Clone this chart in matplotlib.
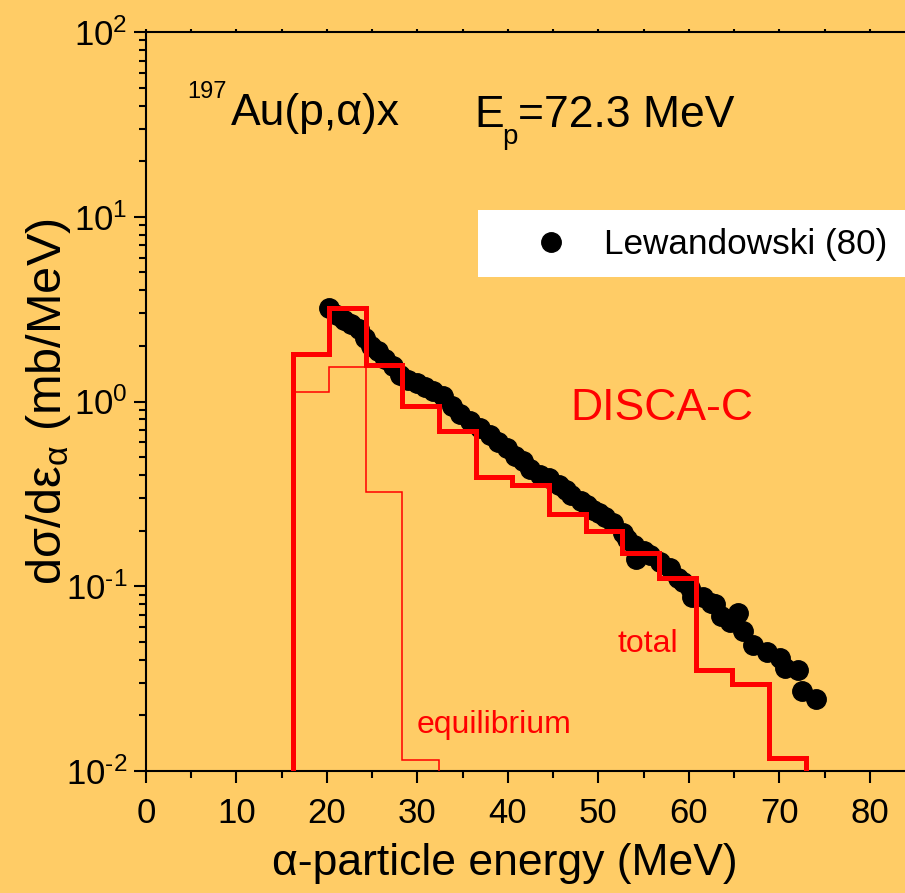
import matplotlib
matplotlib.use('Agg')
import matplotlib.pyplot as plt
from matplotlib.patches import Rectangle
from matplotlib.ticker import MultipleLocator, LogLocator, NullFormatter, FuncFormatter
import numpy as np

plt.rcParams['font.family'] = ['Liberation Sans', 'DejaVu Sans']
plt.rcParams['mathtext.default'] = 'regular'

# DISCA-C calculation: 4 MeV bins
bin_edges = [16.2, 20.25, 24.3, 28.35, 32.4, 36.45, 40.5, 44.55, 48.6,
             52.65, 56.7, 60.75, 64.8, 68.85, 72.9]
total = [1.80, 3.19, 1.57, 0.94, 0.69, 0.39, 0.355, 0.245, 0.199,
         0.152, 0.111, 0.0354, 0.0294, 0.0118]
eq_edges = [16.2, 20.25, 24.3, 28.35, 32.4]
equilibrium = [1.12, 1.53, 0.323, 0.0114]

# Lewandowski (80) data
exp_e = [20.2, 21.1, 21.9, 22.7, 23.5, 24.2, 24.9, 25.6, 26.4, 27.3,
         28.1, 29.0, 29.9, 30.8, 31.7, 32.8, 33.8, 34.7, 35.8, 36.9,
         38.0, 38.9, 39.9, 40.8, 41.7, 42.4, 43.5, 44.6, 45.7, 46.4,
         47.0, 48.1, 48.8, 49.4, 50.1, 50.7, 51.6, 52.7, 53.2, 53.9,
         54.2, 55.0, 55.7, 56.8, 57.9, 58.8, 59.4, 60.1, 60.3, 61.6,
         62.5, 62.9, 63.6, 64.5, 65.4, 66.0, 67.1, 68.6, 70.1, 70.6,
         72.1, 72.5, 74.1]
exp_xs = [3.22, 2.95, 2.75, 2.62, 2.48, 2.21, 1.99, 1.87, 1.69, 1.55,
          1.40, 1.31, 1.26, 1.20, 1.14, 1.07, 0.95, 0.86, 0.78, 0.72,
          0.66, 0.60, 0.56, 0.51, 0.475, 0.43, 0.40, 0.385, 0.355, 0.33,
          0.31, 0.288, 0.275, 0.26, 0.25, 0.238, 0.22, 0.195, 0.18, 0.168,
          0.14, 0.155, 0.148, 0.135, 0.125, 0.111, 0.105, 0.098, 0.088, 0.087,
          0.081, 0.080, 0.069, 0.064, 0.072, 0.057, 0.048, 0.044, 0.041, 0.036,
          0.035, 0.027, 0.0244]

bg = '#FFCC66'
W, H = 905, 893
fig = plt.figure(figsize=(W / 100, H / 100), dpi=100, facecolor=bg)
ax = fig.add_axes([146 / W, 1 - 771 / H, 769 / W, 739 / H], facecolor=bg)

ax.plot(exp_e, exp_xs, 'o', color='black', markersize=14, zorder=2,
        label='Lewandowski (80)')
ax.stairs(total, bin_edges, baseline=1e-4, color='red', lw=3.6, zorder=3)
ax.stairs(equilibrium, eq_edges, baseline=1e-4, color='red', lw=1.1, zorder=3)

ax.set_yscale('log')
ax.set_xlim(0, 85)
ax.set_ylim(1e-2, 1e2)

ax.xaxis.set_major_locator(MultipleLocator(10))
ax.xaxis.set_minor_locator(MultipleLocator(5))
ax.yaxis.set_major_locator(LogLocator(base=10, numticks=10))
ax.yaxis.set_minor_locator(LogLocator(base=10, subs=range(2, 10), numticks=20))
ax.yaxis.set_minor_formatter(NullFormatter())
ax.yaxis.set_major_formatter(FuncFormatter(
    lambda v, p: '10$^{%s}$' % str(int(round(np.log10(v)))).replace('-', '\u2010')))

for s in ax.spines.values():
    s.set_linewidth(1.5)
ax.tick_params(which='both', direction='out', width=1.5, labelsize=25,
               top=True, right=False)
ax.tick_params(which='major', length=8.6)
ax.tick_params(which='minor', length=5)
ax.tick_params(axis='x', which='major', pad=10)
ax.tick_params(axis='y', which='major', pad=5)
# tiny ticks along the top spine
for t in ax.xaxis.get_major_ticks() + ax.xaxis.get_minor_ticks():
    t.tick2line.set_markersize(2)

ax.set_xlabel('α-particle energy (MeV)', fontsize=32)
ax.xaxis.set_label_coords(0.467, -0.097)
ax.xaxis.label.set_va('top')
ax.set_ylabel('dσ/dε$_{α}$ (mb/MeV)', fontsize=35)
ax.yaxis.set_label_coords(-0.095, 0.5)

# legend box
ax.add_patch(Rectangle((0.4317, 0.6685), 0.6, 0.0907, transform=ax.transAxes,
                       facecolor='white', edgecolor='none', clip_on=False, zorder=4))
ax.legend(loc='center left', bbox_to_anchor=(0.4694, 0.7118), frameon=False,
          fontsize=25.3, numpoints=1, borderpad=0, handlelength=1.5,
          handletextpad=0.75).set_zorder(5)

# annotations
fig.text(187 / W, 1 - 98 / H, '197', fontsize=17, va='baseline')
fig.text(231 / W, 1 - 125 / H, 'Au(p,α)x', fontsize=32, va='baseline')
fig.text(474 / W, 1 - 127 / H, 'E', fontsize=32, va='baseline')
fig.text(502 / W, 1 - 144 / H, 'p', fontsize=20, va='baseline')
fig.text(518 / W, 1 - 127 / H, '=72.3 MeV', fontsize=32, va='baseline')
fig.text(570 / W, 1 - 420 / H, 'DISCA-C', fontsize=32, color='red', va='baseline')
fig.text(617 / W, 1 - 652 / H, 'total', fontsize=23, color='red', va='baseline')
fig.text(417 / W, 1 - 733 / H, 'equilibrium', fontsize=23, color='red', va='baseline')

fig.savefig('out.png', dpi=100, facecolor=bg)
